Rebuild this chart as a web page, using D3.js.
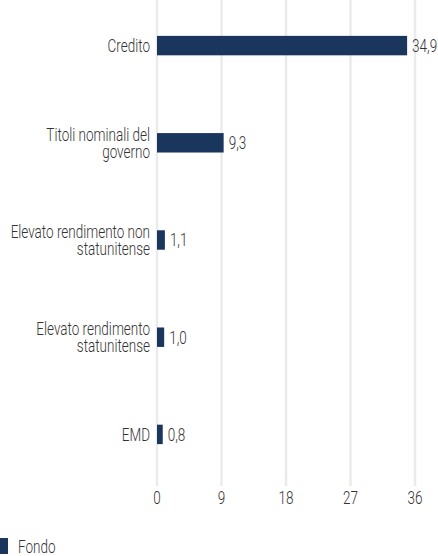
<!DOCTYPE html>
<html>
<head>
  <script src="https://d3js.org/d3.v7.min.js"></script>
  <style>
    body { margin: 0; background: #fff; }
    text { font-family: Roboto, 'Noto Sans', sans-serif; font-weight: 300; fill: #333; }
  </style>
</head>
<body>
  <svg id="chart"></svg>
  <script>
    var categories = ['Credito', 'Titoli nominali del governo', 'Elevato rendimento non statunitense', 'Elevato rendimento statunitense', 'EMD'];
    var labelLines = [['Credito'], ['Titoli nominali del', 'governo'], ['Elevato rendimento non', 'statunitense'], ['Elevato rendimento', 'statunitense'], ['EMD']];
    var values = [34.9, 9.3, 1.1, 1.0, 0.8];
    var ticks = [0, 9, 18, 27, 36];
    var seriesName = 'Fondo';

    var svgWidth = 438, svgHeight = 556;
    var margin = { top: 0, left: 157 };
    var color = '#1b365d';
    var sx = 0.75; // condensed look
    var fs = 18;

    var svg = d3.select('#chart').attr('width', svgWidth).attr('height', svgHeight);
    var g = svg.append('g').attr('transform', 'translate(' + margin.left + ',' + margin.top + ')');

    var x = d3.scaleLinear().domain([0, 36]).range([0, 258]);
    var y = d3.scaleBand().domain(categories).range([-3, 483]).paddingInner(0.8).paddingOuter(0.4);

    function cond(sel, px, py) {
      return sel.attr('transform', function(d, i) { return 'translate(' + px(d, i) + ',' + py(d, i) + ') scale(' + sx + ',1)'; });
    }

    // gridlines
    g.selectAll('.grid').data(ticks).enter().append('line')
      .attr('x1', function(d) { return x(d); })
      .attr('x2', function(d) { return x(d); })
      .attr('y1', 0).attr('y2', 486)
      .attr('stroke', '#ebebeb').attr('stroke-width', 2.5);

    // x axis labels
    cond(g.selectAll('.tick').data(ticks).enter().append('text'),
      function(d) { return x(d); }, function() { return 498; })
      .attr('text-anchor', 'middle')
      .attr('dy', '0.35em')
      .attr('font-size', fs)
      .text(function(d) { return d; });

    g.selectAll('.bar').data(values).enter().append('rect')
      .attr('x', 0)
      .attr('y', function(d, i) { return y(categories[i]); })
      .attr('width', function(d) { return x(d); })
      .attr('height', y.bandwidth())
      .attr('fill', color);

    // value labels
    cond(g.selectAll('.val').data(values).enter().append('text'),
      function(d) { return x(d) + 5; },
      function(d, i) { return y(categories[i]) + y.bandwidth() / 2; })
      .attr('dy', '0.35em')
      .attr('font-size', fs)
      .text(function(d) { return d.toFixed(1).replace('.', ','); });

    // category labels
    var lab = cond(g.selectAll('.lab').data(labelLines).enter().append('text'),
      function() { return -7; },
      function(d, i) { return y(categories[i]) + y.bandwidth() / 2; })
      .attr('text-anchor', 'end')
      .attr('font-size', fs);
    lab.selectAll('tspan').data(function(d) { return d.map(function(t, j) { return { t: t, j: j, n: d.length }; }); })
      .enter().append('tspan')
      .attr('x', 0)
      .attr('dy', function(d) { return d.j === 0 ? (0.35 - (d.n - 1) * 0.47) + 'em' : '0.94em'; })
      .text(function(d) { return d.t; });

    // legend
    svg.append('rect').attr('x', 0).attr('y', 538).attr('width', 8).attr('height', 16).attr('fill', color);
    svg.append('text').attr('transform', 'translate(18,547) scale(' + sx + ',1)')
      .attr('dy', '0.35em').attr('font-size', fs).text(seriesName);
  </script>
</body>
</html>
